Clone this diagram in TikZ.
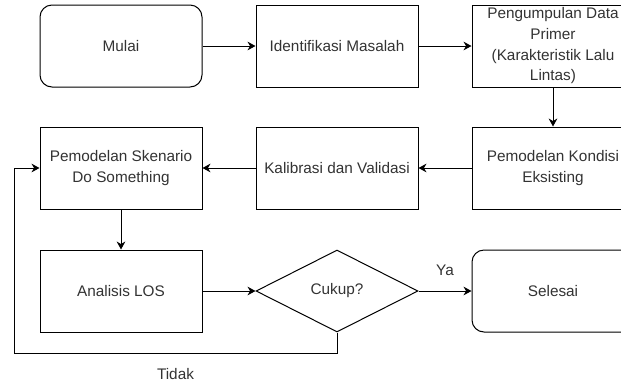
\documentclass[tikz,border=0pt]{standalone}
\usepackage{fontspec}
\setmainfont{Liberation Sans}
\usepackage{xcolor}
\usetikzlibrary{
    shapes.geometric,
    arrows.meta,
    positioning,
    calc
}
\definecolor{linecol}{HTML}{000000}
\definecolor{textcol}{HTML}{333333}
\tikzset{
    % Base process style
    process/.style={
        rectangle,
        minimum width=121.5pt,
        minimum height=61.5pt,
        inner sep=0pt,
        align=center,
        font=\fontsize{11.5}{15.5}\selectfont,
        text=textcol,
        draw=linecol,
        fill=white,
        line width=0.75pt
    },
    % Start / end style
    terminal/.style={
        process,
        rounded corners=9pt
    },
    % Decision style
    decision/.style={
        diamond,
        minimum width=121.5pt,
        minimum height=61.5pt,
        inner sep=0pt,
        align=center,
        font=\fontsize{11.5}{15.5}\selectfont,
        text=textcol,
        draw=linecol,
        line width=0.75pt
    },
    % Arrow style
    flow/.style={
        -{Stealth[length=6pt, width=6.5pt]},
        line width=0.75pt,
        color=linecol
    },
    % Label style
    label text/.style={
        font=\fontsize{11.5}{15.5}\selectfont,
        text=textcol
    }
}

\begin{document}
\begin{tikzpicture}[x=0.75pt, y=0.75pt, node distance=29.25pt and 39.75pt]
        \useasboundingbox (0,0) rectangle (621,-383);
        \clip (0,0) rectangle (621,-383);

        % Top row
        \node[terminal] (mulai) at (121,-46) {Mulai};
        \node[process, right=of mulai] (identifikasi) {Identifikasi Masalah};
        \node[process, right=of identifikasi] (pengumpulan) {Pengumpulan Data\\Primer\\(Karakteristik Lalu\\Lintas)};

        % Middle row
        \node[process, below=of pengumpulan] (kondisi) {Pemodelan Kondisi\\Eksisting};
        \node[process, left=of kondisi] (kalibrasi) {Kalibrasi dan Validasi};
        \node[process, left=of kalibrasi] (skenario) {Pemodelan Skenario\\Do Something};

        % Bottom row
        \node[process, below=30pt of skenario] (analisis) {Analisis LOS};
        \node[decision, right=of analisis] (cukup) {Cukup?};
        \node[terminal, right=of cukup] (selesai) {Selesai};

        % Connectors
        \draw[flow] (mulai) -- (identifikasi);
        \draw[flow] (identifikasi) -- (pengumpulan);
        \draw[flow] (pengumpulan) -- (kondisi);
        \draw[flow] (kondisi) -- (kalibrasi);
        \draw[flow] (kalibrasi) -- (skenario);
        \draw[flow] (skenario) -- (analisis);
        \draw[flow] (analisis) -- (cukup);
        \draw[flow] (cukup) -- node[label text, above, yshift=8pt] {Ya} (selesai);

        % Loop back
        \coordinate (loop) at (14,-353);
        \draw[flow] (cukup.south) |- node[label text, pos=0.75, below, yshift=-7.5pt] {Tidak} (loop) |- (skenario.west);
    \end{tikzpicture}
\end{document}
